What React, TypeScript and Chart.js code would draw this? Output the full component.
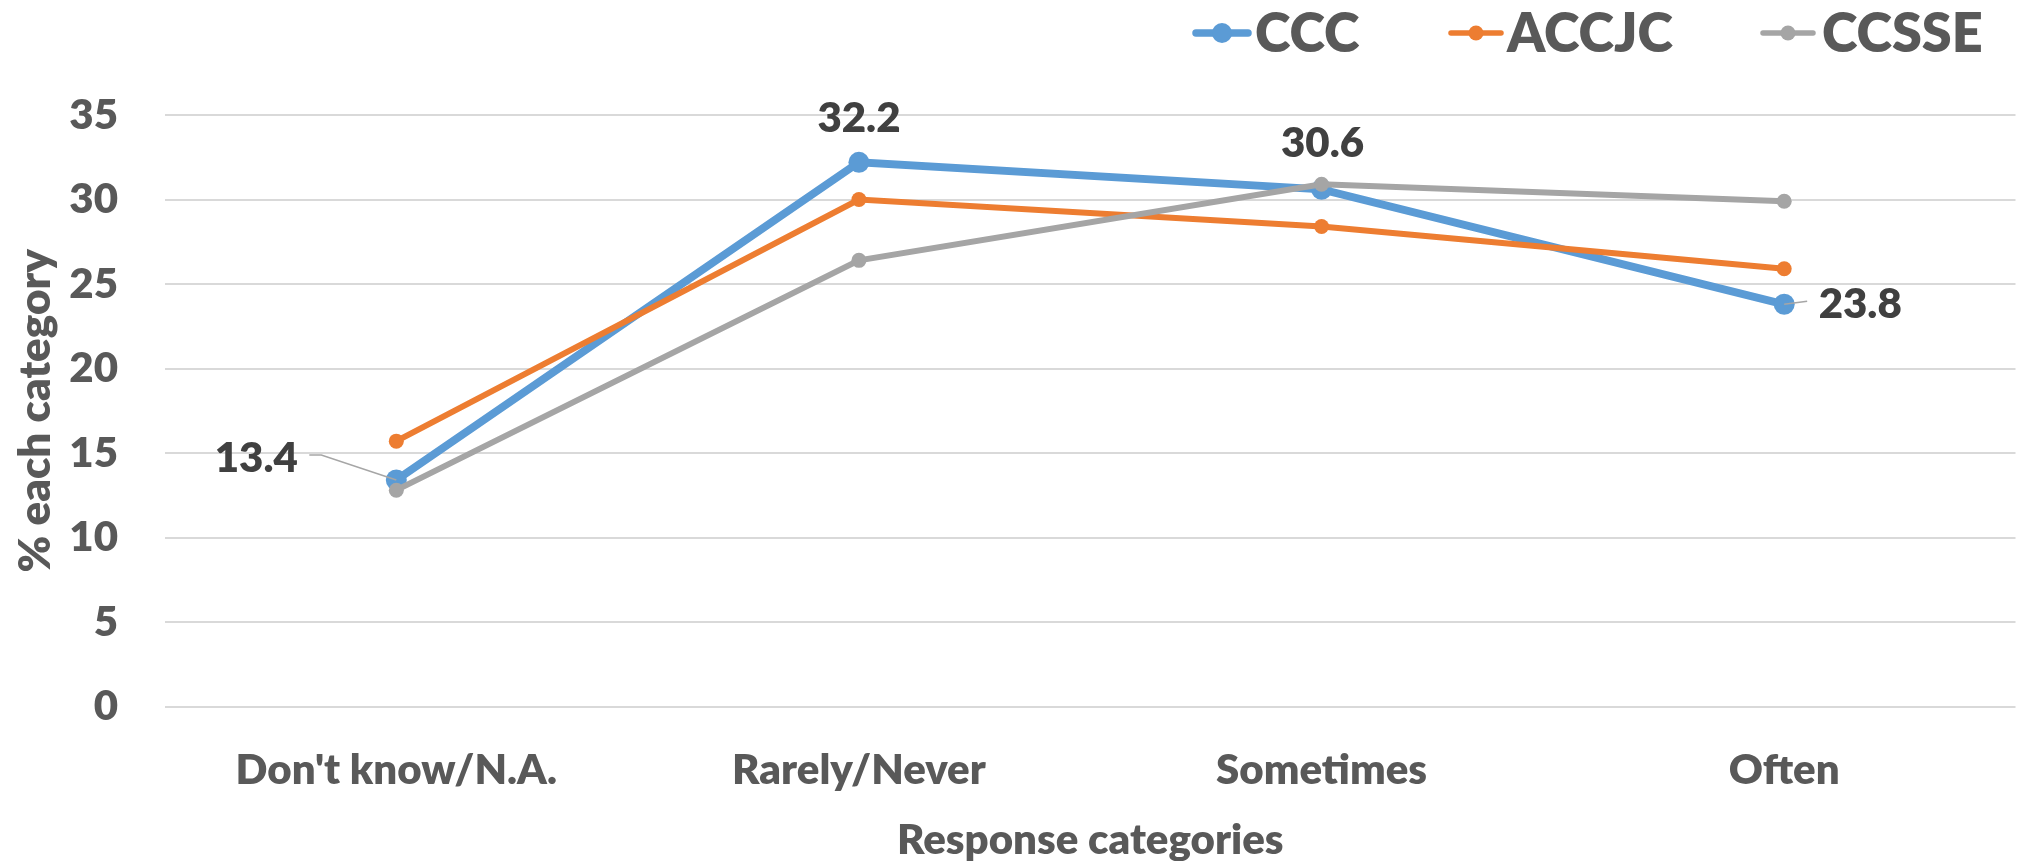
import React, { useEffect, useRef } from 'react';
import { Chart, registerables } from 'chart.js';

Chart.register(...registerables);

const categories = ["Don't know/N.A.", 'Rarely/Never', 'Sometimes', 'Often'];
const seriesNames = ['CCC', 'ACCJC', 'CCSSE'];
const cccValues = [13.4, 32.2, 30.6, 23.8];
const accjcValues = [15.7, 30.0, 28.4, 25.9];
const ccsseValues = [12.8, 26.4, 30.9, 29.9];
const yMin = 0;
const yMax = 35;
const yStep = 5;
const xTitle = 'Response categories';
const yTitle = '% each category';

const COLORS = ['#5B9BD5', '#ED7D31', '#A5A5A5'];
const LINE_W = [8, 6, 6];
const POINT_R = [10.5, 7.5, 7.5];
const TEXT = '#595959';
const LABEL_TEXT = '#404040';
const FONT = 'Lato, "Open Sans", sans-serif';
const WEIGHT = '800';

// label placement for CCC series (offsets from point, in px)
const labelPlacement = [
  { dx: -140, dy: -23, leader: [[-75, -25], [-87, -25]] },
  { dx: 0, dy: -45, leader: null },
  { dx: 1, dy: -47, leader: null },
  { dx: 76, dy: -1, leader: [[23, -3]] },
];

const legendLayout = [
  { lineX: 1193, textX: 1255 },
  { lineX: 1448, textX: 1507 },
  { lineX: 1760, textX: 1822 },
];

const dataLabelPlugin = {
  id: 'dataLabels',
  afterDatasetsDraw(chart: any) {
    const ctx = chart.ctx;
    const meta = chart.getDatasetMeta(0);
    const ds = chart.data.datasets[0];
    ctx.save();
    meta.data.forEach((pt: any, i: number) => {
      const p = labelPlacement[i];
      if (!p) return;
      const px = pt.x;
      const py = pt.y;
      if (p.leader) {
        ctx.strokeStyle = '#A6A6A6';
        ctx.lineWidth = 1.5;
        ctx.beginPath();
        ctx.moveTo(px, py);
        p.leader.forEach((q: number[]) => ctx.lineTo(px + q[0], py + q[1]));
        ctx.stroke();
      }
      ctx.fillStyle = LABEL_TEXT;
      ctx.font = `${WEIGHT} 42px ${FONT}`;
      ctx.textAlign = 'center';
      ctx.textBaseline = 'alphabetic';
      ctx.fillText(String(ds.data[i].toFixed(1)), px + p.dx, py + p.dy + 15);
    });
    ctx.restore();
  },
};

const legendPlugin = {
  id: 'customLegend',
  afterDraw(chart: any) {
    const ctx = chart.ctx;
    ctx.save();
    const cy = 33;
    chart.data.datasets.forEach((ds: any, i: number) => {
      const l = legendLayout[i];
      const lw = i === 0 ? 58 : 56;
      ctx.strokeStyle = ds.borderColor;
      ctx.lineWidth = i === 0 ? 7.5 : 5.5;
      ctx.lineCap = 'round';
      ctx.beginPath();
      ctx.moveTo(l.lineX + 3, cy);
      ctx.lineTo(l.lineX + lw - 3, cy);
      ctx.stroke();
      ctx.fillStyle = ds.borderColor;
      ctx.beginPath();
      ctx.arc(l.lineX + lw / 2, cy, i === 0 ? 10 : 7.5, 0, Math.PI * 2);
      ctx.fill();
      ctx.fillStyle = TEXT;
      ctx.font = `${WEIGHT} 54px ${FONT}`;
      ctx.textAlign = 'left';
      ctx.textBaseline = 'alphabetic';
      ctx.fillText(ds.label, l.textX, 52);
    });
    ctx.restore();
  },
};

export default function App() {
  const canvasRef = useRef<HTMLCanvasElement | null>(null);

  useEffect(() => {
    if (!canvasRef.current) return;
    const seriesValues = [cccValues, accjcValues, ccsseValues];
    const chart = new Chart(canvasRef.current, {
      type: 'line',
      data: {
        labels: categories,
        datasets: seriesNames.map((name, i) => ({
          label: name,
          data: seriesValues[i],
          borderColor: COLORS[i],
          backgroundColor: COLORS[i],
          pointBackgroundColor: COLORS[i],
          pointBorderColor: COLORS[i],
          borderWidth: LINE_W[i],
          pointRadius: POINT_R[i],
          pointBorderWidth: 0,
          pointHoverRadius: POINT_R[i],
          tension: 0,
          fill: false,
          order: 2 - i,
        })),
      },
      options: {
        responsive: true,
        maintainAspectRatio: false,
        animation: false,
        layout: { padding: { top: 115, right: 0, bottom: 0, left: 0 } },
        plugins: {
          legend: { display: false },
          tooltip: { enabled: false },
          title: { display: false },
        },
        scales: {
          x: {
            type: 'category',
            offset: true,
            grid: { display: false },
            border: { display: false },
            ticks: {
              color: TEXT,
              font: { family: FONT, size: 42, weight: WEIGHT as any },
              padding: 31,
              maxRotation: 0,
              autoSkip: false,
            },
            title: {
              display: true,
              text: xTitle,
              color: TEXT,
              font: { family: FONT, size: 42, weight: WEIGHT as any, lineHeight: 1 },
              padding: { top: 0, bottom: 0 },
            },
            afterFit: (scale: any) => {
              scale.height = 154.5;
            },
          },
          y: {
            min: yMin,
            max: yMax,
            grid: { color: '#D9D9D9', lineWidth: 2, drawTicks: false },
            border: { display: false },
            ticks: {
              stepSize: yStep,
              color: TEXT,
              font: { family: FONT, size: 42, weight: WEIGHT as any },
              padding: 47,
            },
            title: {
              display: true,
              text: yTitle,
              color: TEXT,
              font: { family: FONT, size: 44, weight: WEIGHT as any },
              padding: { top: 9, bottom: 0 },
            },
            afterFit: (scale: any) => {
              scale.width = 165;
            },
          },
        },
      },
      plugins: [dataLabelPlugin, legendPlugin],
    });
    return () => chart.destroy();
  }, []);

  return (
    <div style={{ position: 'absolute', left: 0, top: 0, width: 2026, height: 861, background: '#fff' }}>
      <canvas ref={canvasRef} />
    </div>
  );
}
